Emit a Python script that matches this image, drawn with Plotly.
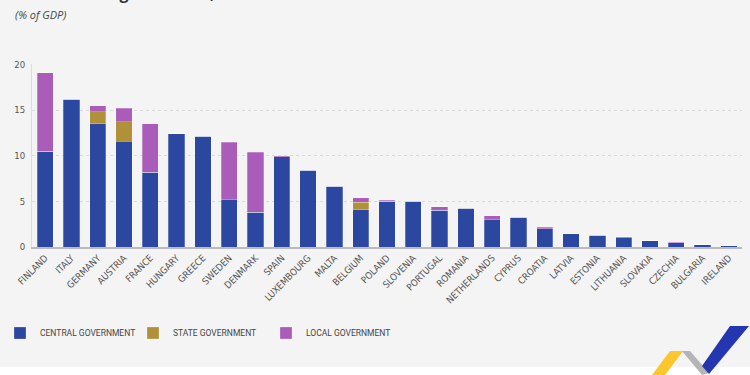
import plotly.graph_objects as go

countries = ["FINLAND", "ITALY", "GERMANY", "AUSTRIA", "FRANCE", "HUNGARY", "GREECE",
             "SWEDEN", "DENMARK", "SPAIN", "LUXEMBOURG", "MALTA", "BELGIUM", "POLAND",
             "SLOVENIA", "PORTUGAL", "ROMANIA", "NETHERLANDS", "CYPRUS", "CROATIA",
             "LATVIA", "ESTONIA", "LITHUANIA", "SLOVAKIA", "CZECHIA", "BULGARIA", "IRELAND"]
central = [10.5, 16.2, 13.5, 11.6, 8.2, 12.4, 12.15, 5.2, 3.8, 9.9, 8.4, 6.65, 4.1, 5.0,
           5.0, 4.0, 4.25, 3.0, 3.25, 2.0, 1.45, 1.3, 1.0, 0.7, 0.45, 0.27, 0.15]
state = [0, 0, 1.3, 2.1, 0, 0, 0, 0, 0, 0, 0, 0, 0.8, 0,
         0, 0, 0, 0, 0, 0, 0, 0, 0, 0, 0, 0, 0]
local = [8.6, 0, 0.7, 1.5, 5.3, 0, 0, 6.3, 6.6, 0.1, 0, 0, 0.5, 0.1,
         0, 0.4, 0, 0.4, 0, 0.15, 0, 0, 0.1, 0, 0.07, 0, 0]
y_ticks = [0, 5, 10, 15, 20]

FONT = "DejaVu Sans Condensed, Roboto, sans-serif"

fig = go.Figure()
for name, vals, col in [("CENTRAL GOVERNMENT", central, "#2c47a0"),
                        ("STATE GOVERNMENT", state, "#b0913a"),
                        ("LOCAL GOVERNMENT", local, "#a95cb8")]:
    fig.add_trace(go.Bar(x=countries, y=vals, name=name, marker_color=col,
                         marker_line=dict(color="rgba(255,255,255,0.5)", width=0.5)))

fig.update_layout(
    barmode="stack", bargap=0.38,
    width=750, height=375,
    paper_bgcolor="#f4f4f4", plot_bgcolor="#f4f4f4",
    margin=dict(l=32, r=8, t=64, b=128, autoexpand=False),
    font=dict(family=FONT, size=9, color="#555"),
    showlegend=True,
    legend=dict(orientation="h", xref="container", yref="container",
                x=0.0, xanchor="left", y=0.112, yanchor="middle",
                font=dict(family="Roboto, sans-serif", size=8.5, color="#444"),
                entrywidth=88, entrywidthmode="pixels", itemwidth=30,
                bgcolor="rgba(0,0,0,0)", traceorder="normal"),
    xaxis=dict(tickangle=-45, showgrid=False, showline=True, linecolor="#bbbbbb",
               linewidth=1.5, ticks="", automargin=False,
               tickfont=dict(family=FONT, size=9.5, color="#555")),
    yaxis=dict(range=[0, 20.05], tickvals=y_ticks, showgrid=True, gridcolor="#d9d9d9",
               griddash="dot", gridwidth=1, zeroline=False, showline=True,
               linecolor="#dddddd", linewidth=1, ticks="", ticklabelstandoff=4,
               automargin=False,
               tickfont=dict(family=FONT, size=9.5, color="#555")),
)

fig.add_annotation(text="<b>Government guarantees, 2022</b>", xref="paper", yref="paper",
                   x=-0.027, y=1.318, xanchor="left", yanchor="bottom", showarrow=False,
                   font=dict(family="Open Sans, sans-serif", size=16, color="#333"))
fig.add_annotation(text="<i>(% of GDP)</i>", xref="paper", yref="paper",
                   x=-0.027, y=1.27, xanchor="left", yanchor="middle", showarrow=False,
                   font=dict(family="Open Sans, sans-serif", size=11, color="#444"))

# decorative footer strip and logo
fig.add_shape(type="rect", xref="paper", yref="paper", x0=-0.05, x1=1.02,
              y0=(247 - 376) / 183, y1=(247 - 367) / 183, fillcolor="white",
              line_width=0, layer="below")

def P(px, py):
    return (px - 32) / 710, (247 - py) / 183

def poly(pts, color):
    coords = [P(*p) for p in pts]
    path = "M " + " L ".join(f"{x},{y}" for x, y in coords) + " Z"
    fig.add_shape(type="path", xref="paper", yref="paper", path=path,
                  fillcolor=color, line_width=0)

poly([(652, 375), (670, 351), (683, 351), (665, 375)], "#fcc62d")
poly([(682, 351), (690, 351), (709, 373), (702, 375)], "#b5b5b8")
poly([(702, 366), (730, 326), (749, 326), (709, 374)], "#2436b0")

fig.write_html("out.html", config={"displayModeBar": False},
               post_script="document.body.style.margin='0';")
